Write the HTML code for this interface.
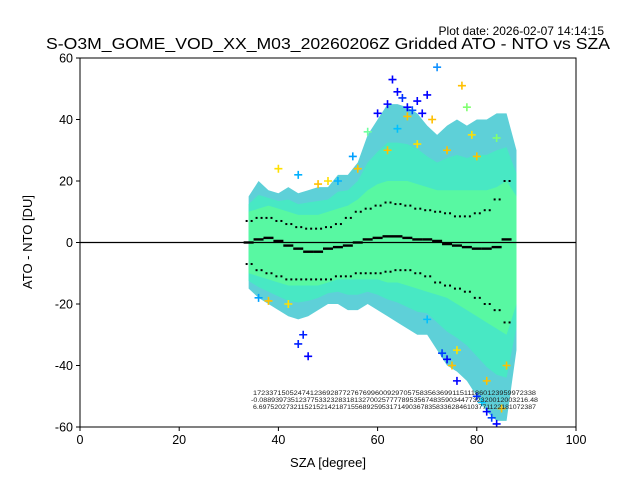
<!DOCTYPE html>
<html><head><meta charset="utf-8"><style>
body{margin:0;background:#fff;}
svg{display:block;font-family:"Liberation Sans","DejaVu Sans",sans-serif;}
</style></head><body>
<svg id="chart" width="640" height="480">
<text x="604" y="35" font-size="12" text-anchor="end">Plot date: 2026-02-07 14:14:15</text>
<text x="328" y="49" font-size="15.5" text-anchor="middle" textLength="564" lengthAdjust="spacingAndGlyphs">S-O3M_GOME_VOD_XX_M03_20260206Z Gridded ATO - NTO vs SZA</text>
<g id="plot"></g>
<text x="328" y="467" font-size="13" text-anchor="middle">SZA [degree]</text>
<text x="32" y="242" font-size="13" text-anchor="middle" transform="rotate(-90 32 242)">ATO - NTO [DU]</text>
</svg>
<script>
const envSza=[34,36,38,40,42,44,46,48,50,52,54,56,58,60,62,64,66,68,70,72,74,76,78,80,82,84,86,88];
const outerTop=[15,20,17,16,18,16,17,18,18,22,22,26,35,40,45,45,44,42,38,35,38,40,38,40,40,42,42,30];
const coreTop=[10,11,12,11,10,9,9,9,10,11,12,14,17,19,20,20,20,19,18,17,17,17,17,17,17,18,20,15];
const coreBot=[-10,-11,-12,-13,-14,-14,-14,-14,-13,-12,-12,-12,-12,-12,-13,-13,-14,-15,-16,-17,-18,-20,-22,-24,-26,-28,-30,-20];
const outerBot=[-15,-18,-20,-22,-24,-25,-24,-22,-20,-20,-22,-22,-20,-22,-24,-26,-28,-30,-30,-35,-40,-42,-45,-50,-55,-58,-58,-35];
const statSza=[34,36,38,40,42,44,46,48,50,52,54,56,58,60,62,64,66,68,70,72,74,76,78,80,82,84,86];
const meanVals=[0,1,1.5,0.5,-1,-2,-3,-3,-2,-1.5,-1,0,1,1.5,2,2,1.5,1,1,0.5,-0.5,-1,-1.5,-2,-2,-1.5,1];
const stdUpper=[7,8,8,7,6,5,4.5,4.5,5,6,8,10,11,12,13,12.5,12,11,10.5,10,9.5,8.5,8.5,9.5,10.5,14,20];
const stdLower=[-7,-9,-10,-11,-12,-12,-12,-12,-12,-11,-11,-10,-10,-10,-9.5,-9,-9,-10,-11,-13,-14,-15,-16,-18,-20,-22,-26];
const outX=[63,64,65,66,67,68,69,70,72,62,45,44,46,36,73,74,75,76,80,81,82,83,84,85,44,60,71,77,78,79,64,66,58,55,50,40,48,52,56,62,68,74,80,84,42,38,70,76,82,86];
const outY=[53,49,47,44,43,46,42,48,57,45,-30,-33,-37,-18,-36,-38,-40,-45,-50,-52,-55,-57,-59,-54,22,42,40,51,44,35,37,41,36,28,20,24,19,20,24,30,32,30,28,34,-20,-19,-25,-35,-45,-40];
const outC=["#0000ff","#0000ff","#0030ff","#0000ff","#0050ff","#0000ff","#0000ff","#0000ff","#1090ff","#0000ff","#0020ff","#0020ff","#0000ff","#00a0ff","#0040ff","#0000ff","#ffc000","#0000ff","#0030ff","#00c8ff","#0000ff","#0040ff","#0000ff","#ffc000","#00b0ff","#0000ff","#ffc000","#ffc000","#80ff70","#ffe000","#00c0ff","#ffc000","#70ffa0","#00a0ff","#ffe000","#ffe000","#ffc000","#00b0ff","#ffc000","#ffc000","#ffe000","#ffc000","#ffc000","#80ff70","#ffe000","#ffc000","#00c0ff","#ffe000","#ffc000","#ffc000"];
const xTicks=[0,20,40,60,80,100];
const yTicks=[-60,-40,-20,0,20,40,60];
const countRow1="1723371505247412369287727676996009297057583563699115111860123959972338";
const countRow2="-0.08893973512377533232831813270025777789535674835903447732320012003216.48";
const countRow3="6.697520273211521521421871556892595317149036783583362846103771122181072387";

const NS="http://www.w3.org/2000/svg";
const L=80,R=576,T=58,B=427;
const sx=v=>L+(v-0)/(100)*(R-L);
const sy=v=>T+(60-v)/120*(B-T);
const plot=document.getElementById('plot');
function mk(tag,attrs,parent){const e=document.createElementNS(NS,tag);for(const k in attrs)e.setAttribute(k,attrs[k]);(parent||plot).appendChild(e);return e;}
function bandPath(topF,botF){
  let d="M"+envSza.map((s,i)=>sx(s)+","+sy(topF(i))).join("L");
  for(let i=envSza.length-1;i>=0;i--)d+="L"+sx(envSza[i])+","+sy(botF(i));
  return d+"Z";
}
const clip=mk('clipPath',{id:'cp'});mk('rect',{x:L,y:T,width:R-L,height:B-T},clip);
const g=mk('g',{'clip-path':'url(#cp)'});
const outer=mk('path',{d:bandPath(i=>outerTop[i],i=>outerBot[i]),fill:'#5ed0d8'},g);


const mid=mk('path',{d:bandPath(i=>(coreTop[i]+outerTop[i])/2,i=>(coreBot[i]+outerBot[i])/2),fill:'#48e8c4'},g);


const core=mk('path',{d:bandPath(i=>coreTop[i],i=>coreBot[i]),fill:'#58f8a2'},g);


outX.forEach((x,i)=>{
  const px=sx(x),py=sy(outY[i]);
  const m=mk('path',{d:`M${px-4},${py}H${px+4}M${px},${py-4}V${py+4}`,stroke:outC[i],'stroke-width':1.6},g);
  
  
});
const z=mk('line',{x1:L,x2:R,y1:sy(0),y2:sy(0),stroke:'#000','stroke-width':1.2});


statSza.forEach((s,i)=>{
  const m=mk('rect',{x:sx(s)-5,y:sy(meanVals[i])-1.2,width:10,height:2.4,fill:'#000'});
  
  
  [stdUpper,stdLower].forEach(arr=>{
    const d=mk('rect',{x:sx(s)-3,y:sy(arr[i])-1,width:2,height:2,fill:'#000'});
    
    
    const d2=mk('rect',{x:sx(s)+2,y:sy(arr[i])-1,width:2,height:2,fill:'#000'});
    
    
  });
});
[countRow1,countRow2,countRow3].forEach((t,i)=>{
  const e=mk('text',{x:i==1?251:253,y:395+i*7,'font-size':6.5,textLength:i==1?287:283,lengthAdjust:'spacingAndGlyphs',fill:'#222'});
  e.textContent=t;
  
  
});
const fr=mk('rect',{x:L,y:T,width:R-L,height:B-T,fill:'none',stroke:'#000','stroke-width':1});


xTicks.forEach(v=>{
  const t=mk('line',{x1:sx(v),x2:sx(v),y1:B,y2:B+4,stroke:'#000'});
  
  
  const l=mk('text',{x:sx(v),y:B+17,'font-size':12.5,'text-anchor':'middle'});
  l.textContent=v;
  
  
});
yTicks.forEach(v=>{
  const t=mk('line',{x1:L-4,x2:L,y1:sy(v),y2:sy(v),stroke:'#000'});
  
  
  const l=mk('text',{x:L-7,y:sy(v)+4.5,'font-size':12.5,'text-anchor':'end'});
  l.textContent=v;
  
  
});
</script>
</body></html>
